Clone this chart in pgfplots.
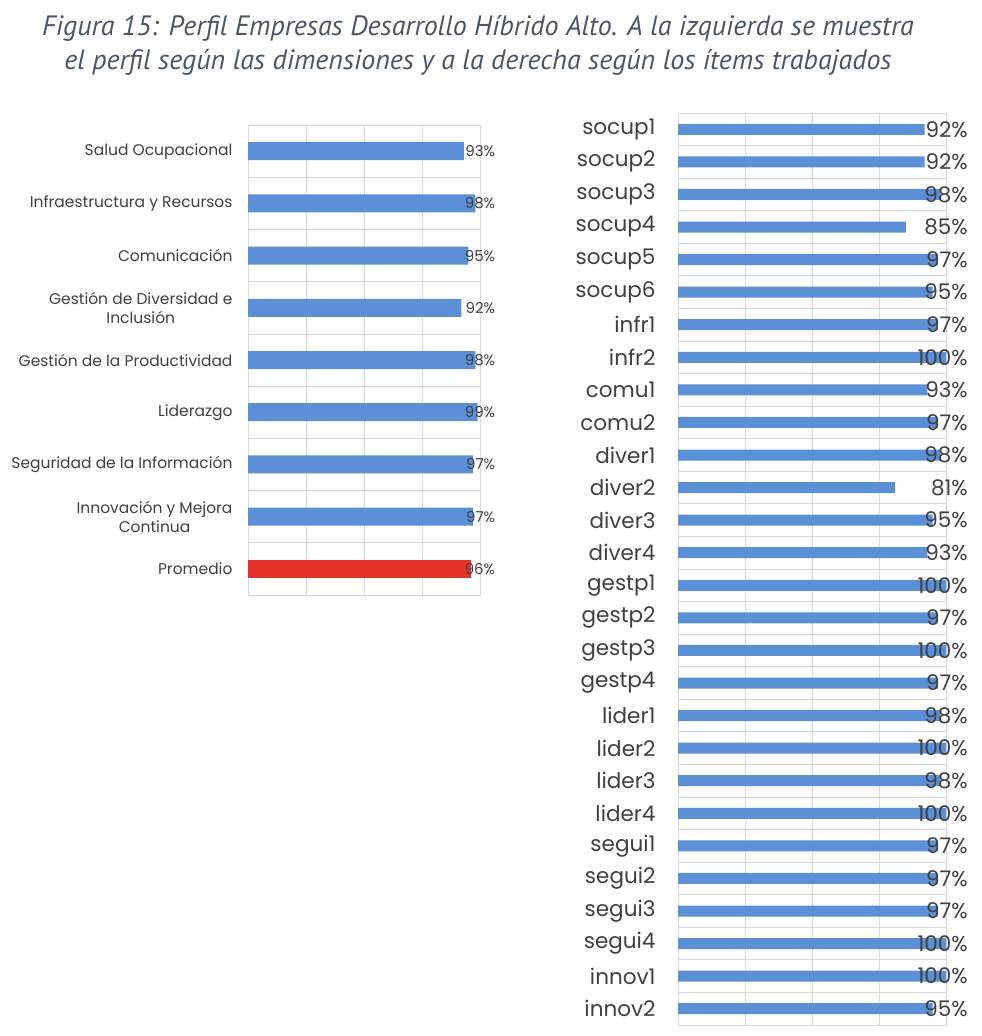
\documentclass[border=0pt]{standalone}
\usepackage{fontspec}
\setmainfont{Poppins}
\newfontfamily\titlefont{PT Sans}
\usepackage{pgfplots}
\pgfplotsset{compat=1.18}
\usepackage{pgfplotstable}

\definecolor{barblue}{HTML}{5B8FD6}
\definecolor{barred}{HTML}{E5322A}
\definecolor{gridgray}{HTML}{D9D9D9}
\definecolor{labelgray}{HTML}{404040}
\definecolor{titlecol}{HTML}{4A5568}

% left panel: dimensions
\pgfplotstableread{
idx val
0 93
1 98
2 95
3 92
4 98
5 99
6 97
7 97
}\dimtable
\pgfplotstableread{
idx val
8 96
}\promtable

% right panel: items
\pgfplotstableread{
idx val
0 92
1 92
2 98
3 85
4 97
5 95
6 97
7 100
8 93
9 97
10 98
11 81
12 95
13 93
14 100
15 97
16 100
17 97
18 98
19 100
20 98
21 100
22 97
23 97
24 97
25 100
26 100
27 95
}\itemtable

\pgfplotsset{
  profile/.style={
    scale only axis,
    clip=false,
    xmin=0, xmax=100,
    y dir=reverse,
    xtick={0,25,50,75,100},
    xticklabels=\empty,
    major tick length=0pt,
    minor tick length=0pt,
    xmajorgrids=true,
    yminorgrids=true,
    grid style={gridgray, line width=0.8pt},
    minor grid style={gridgray, line width=0.8pt},
    axis line style={gridgray, line width=0.8pt},
    yticklabel style={text=labelgray, align=center},
  },
  vallabel/.style={draw=none, mark=none, point meta=explicit symbolic,
    nodes near coords={\pgfplotspointmeta\%},
    every node near coord/.style={anchor=east, inner sep=0pt, text=labelgray,
      font=\fontsize{#1}{#1}\selectfont}},
}

\begin{document}
\begin{tikzpicture}
\path[use as bounding box] (0pt,0pt) rectangle (982pt,-1036pt);

\node[font=\titlefont\itshape\fontsize{28}{34}\selectfont, text=titlecol, align=center]
  at (478pt,-45pt) {Figura 15: Perfil Empresas Desarrollo Híbrido Alto. A la izquierda se muestra\\
  el perfil según las dimensiones y a la derecha según los ítems trabajados};

% left
\begin{axis}[profile,
  at={(248pt,-595pt)}, anchor=south west,
  width=232pt, height=470pt,
  ymin=-0.5, ymax=8.5,
  ytick={0,...,8},
  minor ytick={-0.5,0.5,...,8.5},
  yticklabels={Salud Ocupacional, Infraestructura y Recursos, Comunicación,
    {Gestión de Diversidad e\\Inclusión}, Gestión de la Productividad, Liderazgo,
    Seguridad de la Información, {Innovación y Mejora\\Continua}, Promedio},
  yticklabel style={font=\fontsize{15.5}{19}\selectfont, xshift=-12pt},
]
\addplot[xbar, bar shift=0pt, bar width=18pt, draw=none, fill=barblue]
  table[x=val, y=idx] {\dimtable};
\addplot[xbar, bar shift=0pt, bar width=18pt, draw=none, fill=barred]
  table[x=val, y=idx] {\promtable};
\addplot[vallabel=15] table[x expr=106.6, y=idx, meta=val] {\dimtable};
\addplot[vallabel=15] table[x expr=106.6, y=idx, meta=val] {\promtable};
\end{axis}

% right
\begin{axis}[profile,
  at={(678pt,-1025pt)}, anchor=south west,
  width=268pt, height=912pt,
  ymin=-0.5, ymax=27.5,
  ytick={0,...,27},
  minor ytick={-0.5,0.5,...,27.5},
  yticklabels={socup1,socup2,socup3,socup4,socup5,socup6,infr1,infr2,comu1,comu2,
    diver1,diver2,diver3,diver4,gestp1,gestp2,gestp3,gestp4,lider1,lider2,lider3,lider4,
    segui1,segui2,segui3,segui4,innov1,innov2},
  yticklabel style={font=\fontsize{21.5}{24}\selectfont, xshift=-19pt},
]
\addplot[xbar, bar shift=0pt, bar width=11pt, draw=none, fill=barblue]
  table[x=val, y=idx] {\itemtable};
\addplot[vallabel=21.5] table[x expr=108.2, y=idx, meta=val] {\itemtable};
\end{axis}
\end{tikzpicture}
\end{document}
